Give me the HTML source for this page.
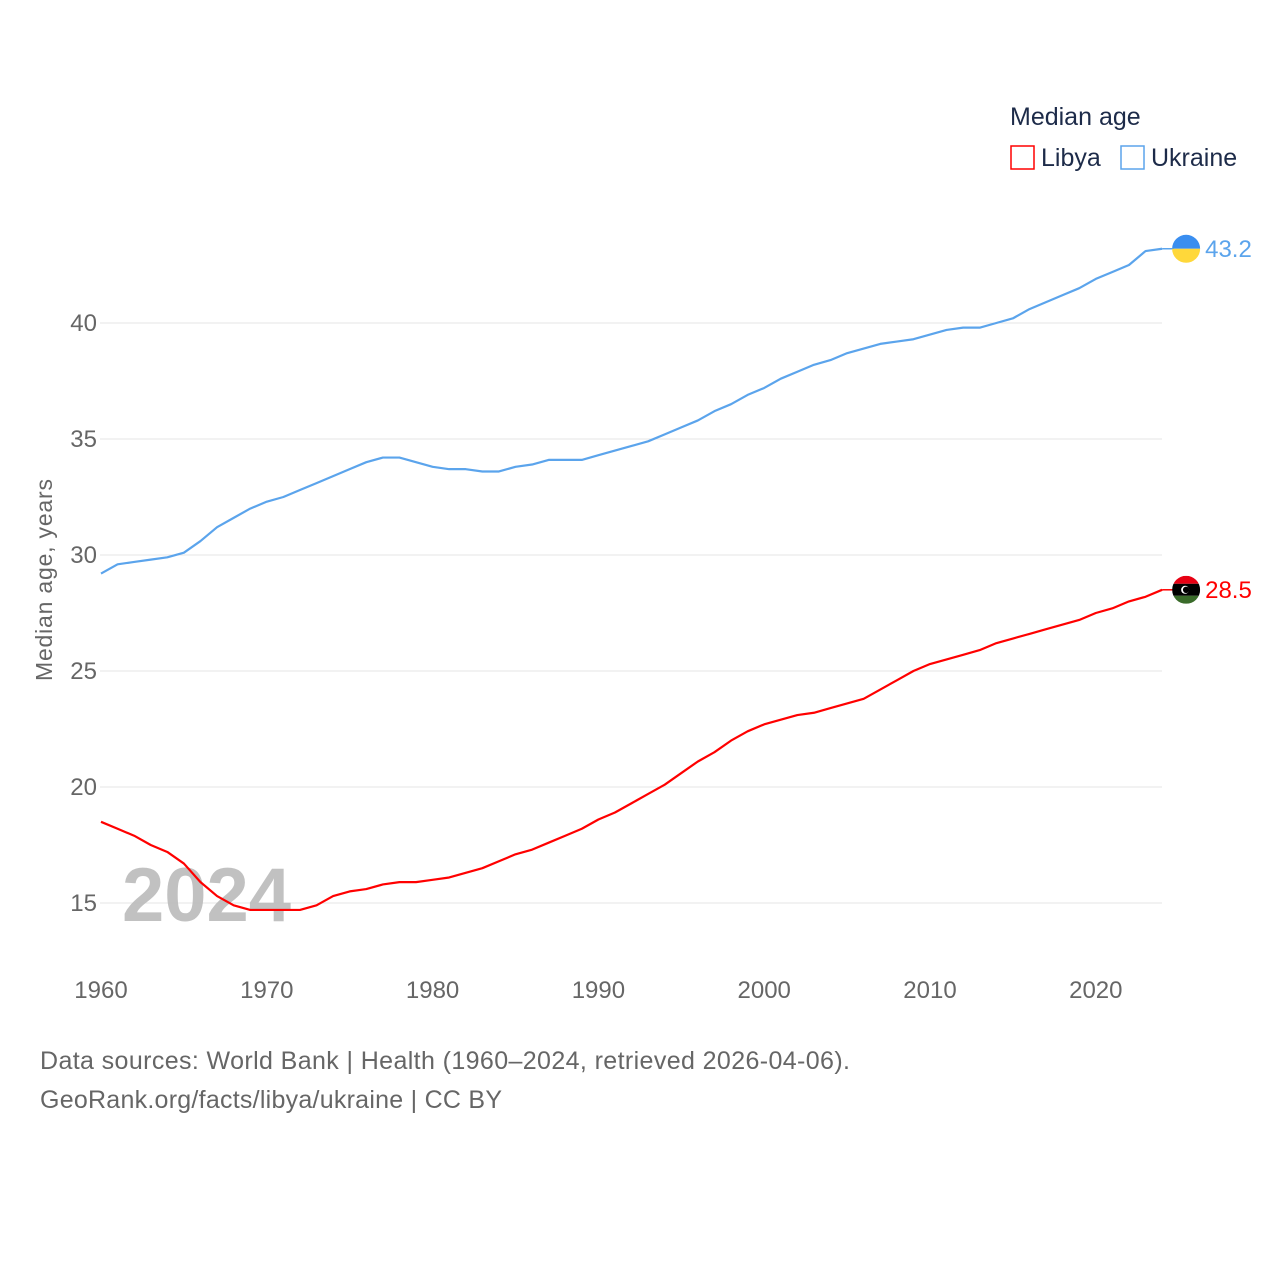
<!DOCTYPE html>
<html><head><meta charset="utf-8"><style>
body{margin:0;background:#fff;font-family:"Liberation Sans",sans-serif}
</style></head><body>
<svg id="c" width="1280" height="1280" xmlns="http://www.w3.org/2000/svg" style="font-family:'Liberation Sans',sans-serif">
<defs><clipPath id="lyclip"><circle cx="1186" cy="589" r="14"/></clipPath></defs>
<g id="grid"></g>
<text x="122" y="921" font-size="76" font-weight="bold" fill="#bbb" opacity="0.9">2024</text>
<g id="series"></g>
<text transform="translate(52,580) rotate(-90)" text-anchor="middle" font-size="23" fill="#666" textLength="202">Median age, years</text>
<text x="1010" y="125" font-size="25" fill="#1d2b49">Median age</text>
<rect x="1011" y="146" width="23" height="23" fill="none" stroke="#f00" stroke-width="1.5"/>
<text x="1041" y="166" font-size="25" fill="#1d2b49">Libya</text>
<rect x="1121" y="146" width="23" height="23" fill="none" stroke="#5ba4ec" stroke-width="1.5"/>
<text x="1151" y="166" font-size="25" fill="#1d2b49">Ukraine</text>
<text x="40" y="1069" font-size="25" fill="#666" textLength="810">Data sources: World Bank | Health (1960–2024, retrieved 2026-04-06).</text>
<text x="40" y="1108" font-size="25" fill="#666" textLength="462">GeoRank.org/facts/libya/ukraine | CC BY</text>
</svg>
<script>
const years=[];for(let y=1960;y<=2024;y++)years.push(y);
const ukraine=[29.2,29.6,29.7,29.8,29.9,30.1,30.6,31.2,31.6,32.0,32.3,32.5,32.8,33.1,33.4,33.7,34.0,34.2,34.2,34.0,33.8,33.7,33.7,33.6,33.6,33.8,33.9,34.1,34.1,34.1,34.3,34.5,34.7,34.9,35.2,35.5,35.8,36.2,36.5,36.9,37.2,37.6,37.9,38.2,38.4,38.7,38.9,39.1,39.2,39.3,39.5,39.7,39.8,39.8,40.0,40.2,40.6,40.9,41.2,41.5,41.9,42.2,42.5,43.1,43.2];
const libya=[18.5,18.2,17.9,17.5,17.2,16.7,15.9,15.3,14.9,14.7,14.7,14.7,14.7,14.9,15.3,15.5,15.6,15.8,15.9,15.9,16.0,16.1,16.3,16.5,16.8,17.1,17.3,17.6,17.9,18.2,18.6,18.9,19.3,19.7,20.1,20.6,21.1,21.5,22.0,22.4,22.7,22.9,23.1,23.2,23.4,23.6,23.8,24.2,24.6,25.0,25.3,25.5,25.7,25.9,26.2,26.4,26.6,26.8,27.0,27.2,27.5,27.7,28.0,28.2,28.5];
const yTicks=[15,20,25,30,35,40];
const xTicks=[1960,1970,1980,1990,2000,2010,2020];
const X=v=>101+(v-1960)*16.58, Y=v=>323-(v-40)*23.2;
const NS="http://www.w3.org/2000/svg";
function mk(t,a,p){const e=document.createElementNS(NS,t);for(const k in a)e.setAttribute(k,a[k]);p.appendChild(e);return e;}
const g=document.getElementById('grid'),s=document.getElementById('series');
yTicks.forEach(v=>{const l=mk('line',{x1:100,x2:1162,y1:Y(v),y2:Y(v),stroke:'#e6e6e6','stroke-width':1},g);


const t=mk('text',{x:97,y:Y(v)+8,'text-anchor':'end','font-size':24,fill:'#666'},g);t.textContent=v;

});
xTicks.forEach(v=>{const t=mk('text',{x:X(v),y:998,'text-anchor':'middle','font-size':24,fill:'#666'},g);t.textContent=v;

});
function series(name,data,color,flag){
const pts=data.map((v,i)=>X(years[i])+','+Y(v)).join(' ');
const p=mk('polyline',{points:pts,fill:'none',stroke:color,'stroke-width':2.2,'stroke-linejoin':'round'},s);


const last=data[data.length-1],ly=Y(last),lx=X(years[years.length-1]);
mk('line',{x1:lx,x2:lx+12,y1:ly,y2:ly,stroke:color,'stroke-width':1.5},s);
const cx=lx+24;
const fg=mk('g',{},s);


const r=14;
if(flag==='ua'){
mk('path',{d:`M${cx-r},${ly} A${r},${r} 0 0 1 ${cx+r},${ly} Z`,fill:'#3a8ef0'},fg);
mk('path',{d:`M${cx-r},${ly} A${r},${r} 0 0 0 ${cx+r},${ly} Z`,fill:'#ffd83a'},fg);
}else{
const cg=mk('g',{transform:`translate(${cx-1186},${ly-589})`},fg);
const ig=mk('g',{'clip-path':'url(#lyclip)'},cg);
mk('rect',{x:1186-r,y:589-r,width:2*r,height:8,fill:'#e70013'},ig);
mk('rect',{x:1186-r,y:589-6,width:2*r,height:12,fill:'#000'},ig);
mk('rect',{x:1186-r,y:589+6,width:2*r,height:8,fill:'#3a6b2a'},ig);
mk('circle',{cx:1185,cy:589,r:4,fill:'#fff'},ig);mk('circle',{cx:1186,cy:589,r:3.2,fill:'#000'},ig);
}
const t=mk('text',{x:cx+19,y:ly+8,'font-size':24,fill:color},s);t.textContent=last.toFixed(1);


}
series('ukraine',ukraine,'#5ba4ec','ua');
series('libya',libya,'#f00','ly');
</script>
</body></html>
